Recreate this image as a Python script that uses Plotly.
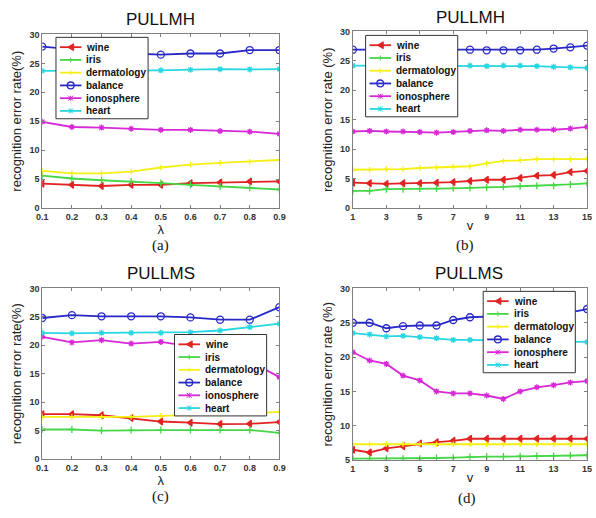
import plotly.graph_objects as go

W, H = 596, 518

# ---------------- data ----------------
lam = [0.1, 0.2, 0.3, 0.4, 0.5, 0.6, 0.7, 0.8, 0.9]
v = list(range(1, 16))
datasets = ["wine", "iris", "dermatology", "balance", "ionosphere", "heart"]

# (a) PULLMH vs lambda
a_wine = [4.2, 4.0, 3.8, 4.0, 4.0, 4.3, 4.4, 4.6, 4.6]
a_iris = [5.6, 5.1, 4.8, 4.6, 4.3, 4.0, 3.7, 3.5, 3.2]
a_derm = [6.4, 6.0, 6.0, 6.3, 7.0, 7.5, 7.8, 8.0, 8.3]
a_bal = [27.9, 27.4, 27.0, 26.7, 26.5, 26.7, 26.7, 27.3, 27.3]
a_iono = [14.9, 14.0, 13.9, 13.7, 13.5, 13.5, 13.3, 13.2, 12.8]
a_heart = [23.7, 23.7, 23.75, 23.75, 23.8, 23.9, 24.0, 23.95, 24.0]

# (b) PULLMH vs v
b_wine = [4.3, 4.2, 4.1, 4.2, 4.2, 4.3, 4.4, 4.6, 4.8, 4.8, 5.1, 5.5, 5.6, 6.1, 6.3]
b_iris = [2.9, 2.9, 3.2, 3.2, 3.3, 3.3, 3.35, 3.4, 3.5, 3.6, 3.7, 3.8, 3.8, 4.0, 4.2]
b_derm = [6.5, 6.5, 6.6, 6.6, 6.8, 6.9, 7.0, 7.1, 7.6, 8.0, 8.1, 8.3, 8.3, 8.3, 8.3]
b_bal = [26.9, 26.9, 26.9, 26.9, 26.9, 26.9, 26.9, 26.9, 26.8, 26.8, 26.8, 26.9, 27.1, 27.3, 27.6]
b_iono = [13.0, 13.1, 13.0, 13.0, 12.9, 12.8, 12.9, 13.1, 13.2, 13.1, 13.3, 13.3, 13.3, 13.5, 13.8]
b_heart = [24.2, 24.2, 24.2, 24.2, 24.2, 24.2, 24.2, 24.2, 24.1, 24.2, 24.2, 24.1, 24.0, 23.9, 23.8]

# (c) PULLMS vs lambda
c_wine = [7.9, 7.9, 7.7, 7.2, 6.6, 6.4, 6.15, 6.2, 6.5]
c_iris = [5.2, 5.2, 5.0, 5.1, 5.1, 5.1, 5.1, 5.1, 4.6]
c_derm = [7.4, 7.4, 7.4, 7.4, 7.6, 7.8, 7.9, 8.0, 8.3]
c_bal = [24.8, 25.3, 25.1, 25.1, 25.1, 24.9, 24.5, 24.5, 26.7]
c_iono = [21.5, 20.5, 20.9, 20.3, 20.6, 19.8, 18.8, 17.2, 14.4]
c_heart = [22.2, 22.1, 22.2, 22.2, 22.2, 22.3, 22.6, 23.2, 23.8]

# (d) PULLMS vs v
d_wine = [6.5, 6.1, 6.7, 7.0, 7.4, 7.6, 7.8, 8.1, 8.1, 8.1, 8.1, 8.1, 8.1, 8.1, 8.1]
d_iris = [5.2, 5.2, 5.2, 5.2, 5.2, 5.3, 5.35, 5.45, 5.5, 5.5, 5.55, 5.6, 5.6, 5.65, 5.7]
d_derm = [7.3] * 15
d_bal = [25.0, 25.0, 24.2, 24.5, 24.6, 24.6, 25.4, 25.8, 25.9, 26.1, 26.2, 26.3, 26.4, 26.5, 27.0]
d_iono = [20.7, 19.5, 19.0, 17.3, 16.6, 15.0, 14.7, 14.7, 14.4, 13.9, 15.0, 15.6, 15.9, 16.3, 16.5]
d_heart = [23.5, 23.3, 23.0, 23.1, 22.9, 22.75, 22.5, 22.5, 22.4, 22.4, 22.3, 22.3, 22.3, 22.2, 22.2]

panels = [
    dict(x=lam, ys=[a_wine, a_iris, a_derm, a_bal, a_iono, a_heart], title="PULLMH",
         xtitle="λ", ytitle="recognition error rate(%)", cap="(a)", yr=[0, 30],
         xticks=lam, xr=[0.1, 0.9]),
    dict(x=v, ys=[b_wine, b_iris, b_derm, b_bal, b_iono, b_heart], title="PULLMH",
         xtitle="v", ytitle="recognition error rate (%)", cap="(b)", yr=[0, 30],
         xticks=list(range(1, 16, 2)), xr=[1, 15]),
    dict(x=lam, ys=[c_wine, c_iris, c_derm, c_bal, c_iono, c_heart], title="PULLMS",
         xtitle="λ", ytitle="recognition error rate(%)", cap="(c)", yr=[0, 30],
         xticks=lam, xr=[0.1, 0.9]),
    dict(x=v, ys=[d_wine, d_iris, d_derm, d_bal, d_iono, d_heart], title="PULLMS",
         xtitle="v", ytitle="recognition error rate (%)", cap="(d)", yr=[5, 30],
         xticks=list(range(1, 16, 2)), xr=[1, 15]),
]

# ---------------- styles ----------------
colors = ["rgb(225,35,35)", "rgb(70,215,70)", "rgb(245,240,20)",
          "rgb(40,40,200)", "rgb(215,40,215)", "rgb(40,215,225)"]
symbols = ["triangle-left", "cross-thin-open", "cross-thin-open",
           "circle-open", "asterisk-open", "asterisk-open"]
msizes = [6, 5, 4, 7, 5, 5]

# plot areas in pixels: (left, right, top, bottom)
areas = [(37, 279, 30, 207), (354, 593, 27, 207), (37, 279, 289, 463), (354, 593, 289, 464)]
title_pos = [(158, 15), (474, 13), (158, 274), (473, 274)]
cap_pos = [(158, 245), (468, 245), (158, 501), (470, 503)]
legend_box = [(51, 33), (367, 31), (172, 336), (487, 292)]


def px(x):
    return x / W


def py(y):
    return 1 - y / H


fig = go.Figure()
FONT = "Arial, Liberation Sans, sans-serif"
shapes = []
annotations = []

for i, p in enumerate(panels):
    n = i + 1
    xa = "x" if n == 1 else f"x{n}"
    ya = "y" if n == 1 else f"y{n}"
    for k, name in enumerate(datasets):
        fig.add_trace(go.Scatter(
            x=p["x"], y=p["ys"][k], name=name, mode="lines+markers",
            xaxis=xa, yaxis=ya, showlegend=False,
            line=dict(color=colors[k], width=1.8),
            marker=dict(symbol=symbols[k], size=msizes[k], color=colors[k],
                        line=dict(color=colors[k], width=1.3)),
        ))
    L, R, T, B = areas[i]
    axcommon = dict(showline=True, linecolor="#808080", linewidth=1, mirror="ticks",
                    ticks="inside", ticklen=3, tickcolor="#808080", showgrid=False,
                    zeroline=False, ticklabeloverflow="allow",
                    tickfont=dict(family=FONT, size=9, color="#333", weight="bold"))
    xkey = "xaxis" if n == 1 else f"xaxis{n}"
    ykey = "yaxis" if n == 1 else f"yaxis{n}"
    fig.layout[xkey] = dict(domain=[px(L), px(R)], anchor=ya, range=p["xr"],
                            tickvals=p["xticks"], ticktext=[str(t) for t in p["xticks"]],
                            title=dict(text=p["xtitle"], font=dict(family=FONT, size=13, color="#222"),
                                       standoff=0),
                            **axcommon)
    fig.layout[ykey] = dict(domain=[py(B), py(T)], anchor=xa, range=p["yr"], dtick=5,
                            title=dict(text=p["ytitle"], font=dict(family=FONT, size=13, color="#222"),
                                       standoff=4),
                            **axcommon)
    # subplot title
    tx, ty = title_pos[i]
    annotations.append(dict(x=px(tx), y=py(ty), xref="paper", yref="paper", text=p["title"],
                            showarrow=False, font=dict(family=FONT, size=17, color="#111"),
                            xanchor="center", yanchor="middle"))
    cx, cy = cap_pos[i]
    annotations.append(dict(x=px(cx), y=py(cy), xref="paper", yref="paper", text=p["cap"],
                            showarrow=False,
                            font=dict(family="Times New Roman, Liberation Serif, serif", size=15, color="#111"),
                            xanchor="center", yanchor="middle"))

    # legend box (drawn like the MATLAB legend)
    lx, ly = legend_box[i]
    bw, bh = 94, 83
    shapes.append(dict(type="rect", xref="paper", yref="paper", x0=px(lx), x1=px(lx + bw),
                       y0=py(ly + bh), y1=py(ly), line=dict(color="#333", width=1),
                       fillcolor="white", layer="above"))
    for k, name in enumerate(datasets):
        ry = ly + 10 + 13 * k
        x0, x1 = lx + 4, lx + 26
        c = colors[k]
        shapes.append(dict(type="line", xref="paper", yref="paper", x0=px(x0), x1=px(x1),
                           y0=py(ry), y1=py(ry), line=dict(color=c, width=1.8), layer="above"))
        mx = (x0 + x1) / 2
        if k == 0:
            path = f"M {px(mx - 3)},{py(ry)} L {px(mx + 3)},{py(ry - 3.5)} L {px(mx + 3)},{py(ry + 3.5)} Z"
            shapes.append(dict(type="path", xref="paper", yref="paper", path=path,
                               fillcolor=c, line=dict(color=c, width=1), layer="above"))
        elif k == 3:
            shapes.append(dict(type="circle", xref="paper", yref="paper", x0=px(mx - 3.5), x1=px(mx + 3.5),
                               y0=py(ry + 3.5), y1=py(ry - 3.5), line=dict(color=c, width=1.3),
                               layer="above"))
        else:
            s = 2.5
            shapes.append(dict(type="line", xref="paper", yref="paper", x0=px(mx), x1=px(mx),
                               y0=py(ry - s), y1=py(ry + s), line=dict(color=c, width=1), layer="above"))
            if k in (4, 5):
                shapes.append(dict(type="line", xref="paper", yref="paper", x0=px(mx - s), x1=px(mx + s),
                                   y0=py(ry - s), y1=py(ry + s), line=dict(color=c, width=1), layer="above"))
                shapes.append(dict(type="line", xref="paper", yref="paper", x0=px(mx - s), x1=px(mx + s),
                                   y0=py(ry + s), y1=py(ry - s), line=dict(color=c, width=1), layer="above"))
        annotations.append(dict(x=px(lx + 29), y=py(ry), xref="paper", yref="paper", text=name,
                                showarrow=False, xanchor="left", yanchor="middle",
                                font=dict(family=FONT, size=10, color="#111", weight="bold")))

fig.update_layout(
    width=W, height=H, autosize=False,
    margin=dict(l=0, r=0, t=0, b=0),
    paper_bgcolor="white", plot_bgcolor="white",
    shapes=shapes, annotations=annotations, showlegend=False,
)

fig.write_html("out.html", config={"displayModeBar": False},
               post_script="document.body.style.margin='0';document.body.style.overflow='hidden';")
